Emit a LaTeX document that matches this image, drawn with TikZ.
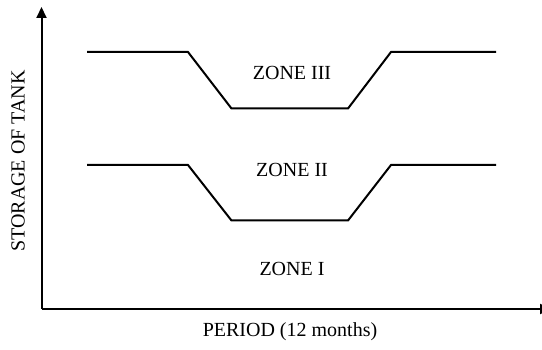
\documentclass[tikz,border=0pt]{standalone}
\usepackage{fontspec}
\setmainfont{Liberation Serif}
\usetikzlibrary{arrows.meta}
\begin{document}
\begin{tikzpicture}[x=1pt,y=-1pt,
  axis/.style={line width=2pt,-{Triangle[length=11pt,width=10pt]}},
  zone/.style={line width=2pt,line join=miter},
  lbl/.style={font=\fontsize{20}{24}\selectfont,inner sep=0pt}]
\useasboundingbox (0,0) rectangle (542,350);
\coordinate (o) at (41.5,309);
\coordinate (ytop) at (41.5,7);
\coordinate (xend) at (551,309);
\draw[axis] (o) -- (ytop);
\draw[axis] (o) -- (xend);
\draw[zone] (87,52) -- (188,52) -- (231.5,108.5) -- (348,108.5) -- (391,52) -- (496,52);
\draw[zone] (87,165) -- (188,165) -- (231.5,220.5) -- (348,220.5) -- (391,165) -- (496,165);
\node[lbl] (z3) at (292,73) {ZONE III};
\node[lbl] (z2) at (292,170) {ZONE II};
\node[lbl] (z1) at (292,269) {ZONE I};
\node[lbl] (xl) at (290,332) {PERIOD (12 months)};
\node[lbl,rotate=90] (yl) at (18,161) {STORAGE OF TANK};
\end{tikzpicture}
\end{document}
